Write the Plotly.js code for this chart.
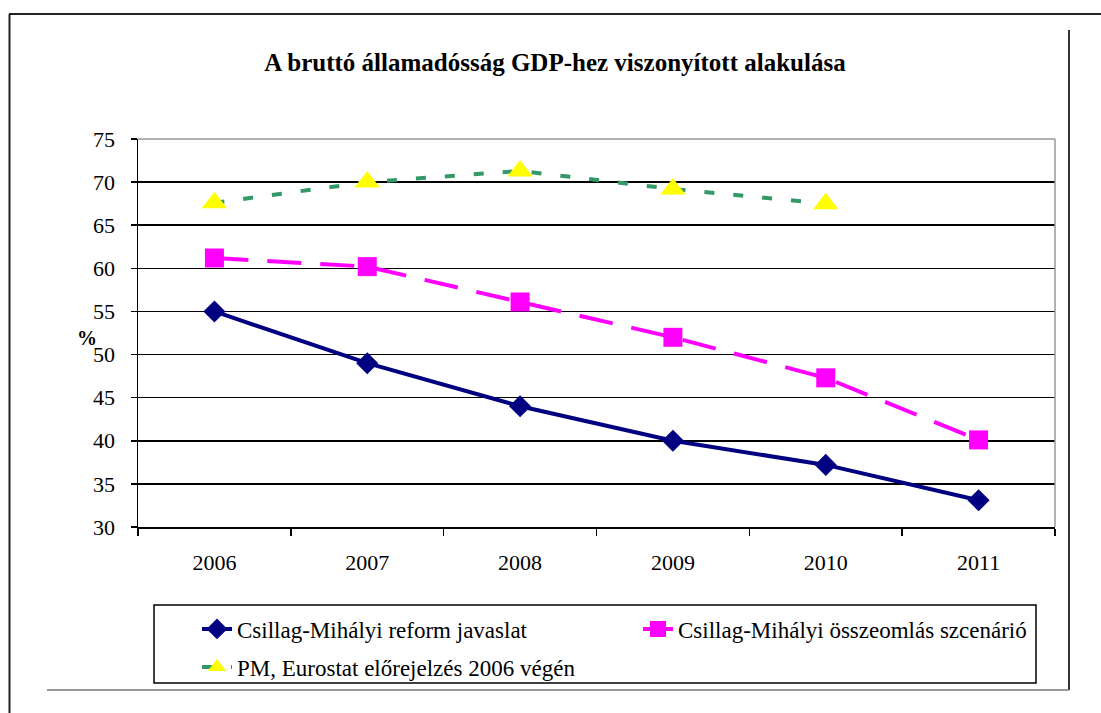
<!DOCTYPE html>
<html>
<head>
<meta charset="utf-8">
<script src="https://cdn.plot.ly/plotly-3.0.1.min.js"></script>
<style>
html,body{margin:0;padding:0;background:#fff;}
#chart{width:1101px;height:713px;}
</style>
</head>
<body>
<div id="chart"></div>
<script>
// ---- data ----
const years = ["2006", "2007", "2008", "2009", "2010", "2011"];
const reformValues = [55, 49, 44, 40, 37.2, 33.1];
const collapseValues = [61.2, 60.2, 56.1, 52, 47.3, 40.1];
const pmYears = ["2006", "2007", "2008", "2009", "2010"];
const pmValues = [67.6, 70, 71.3, 69.2, 67.5];
const seriesNames = [
  "Csillag-Mihályi reform javaslat",
  "Csillag-Mihályi összeomlás szcenárió",
  "PM, Eurostat előrejelzés 2006 végén"
];
const yTicks = [30, 35, 40, 45, 50, 55, 60, 65, 70, 75];
const chartTitle = "A bruttó államadósság GDP-hez viszonyított alakulása";
const yTitle = "%";

// ---- geometry helpers (pixel -> paper) ----
const W = 1101, H = 713;
const L = 138, R = 1055, T = 139, B = 527;
const px = v => (v - L) / (R - L);
const py = v => (B - v) / (B - T);

const serif = "'Liberation Serif', 'Times New Roman', serif";

const traces = [
  {
    x: years, y: reformValues, name: seriesNames[0], type: "scatter", mode: "lines+markers",
    line: {color: "#000080", width: 4},
    marker: {symbol: "diamond", size: 17, color: "#000080", line: {width: 0}},
    legend: "legend"
  },
  {
    x: years, y: collapseValues, name: seriesNames[1], type: "scatter", mode: "lines+markers",
    line: {color: "#FF00FF", width: 4, dash: "34px,19px"},
    marker: {symbol: "square", size: 19, color: "#FF00FF", line: {width: 0}},
    legend: "legend"
  },
  {
    x: pmYears, y: pmValues, name: seriesNames[2], type: "scatter", mode: "lines+markers",
    line: {color: "#339966", width: 4, dash: "10px,19px"},
    marker: {symbol: "triangle-up", size: 22, color: "#FFFF00", line: {width: 0}},
    legend: "legend2"
  }
];

const frameShapes = [
  // outer frame
  {type: "line", xref: "paper", yref: "paper", x0: px(9), x1: px(1101), y0: py(14), y1: py(14), line: {color: "#222", width: 2}},
  {type: "line", xref: "paper", yref: "paper", x0: px(9.5), x1: px(9.5), y0: py(14), y1: py(713), line: {color: "#222", width: 2}},
  {type: "line", xref: "paper", yref: "paper", x0: px(1069), x1: px(1069), y0: py(30), y1: py(690), line: {color: "#333", width: 2}},
  {type: "line", xref: "paper", yref: "paper", x0: px(47), x1: px(1069), y0: py(690), y1: py(690), line: {color: "#777", width: 1.5}},
  // plot top / right border gray
  {type: "line", xref: "paper", yref: "paper", x0: 0, x1: 1, y0: 1, y1: 1, line: {color: "#999", width: 1.5}, layer: "above"},
  {type: "line", xref: "paper", yref: "paper", x0: 1, x1: 1, y0: 0, y1: 1, line: {color: "#999", width: 1.5}, layer: "above"},
  // legend box
  {type: "rect", xref: "paper", yref: "paper", x0: px(154), x1: px(1036), y0: py(605), y1: py(683), line: {color: "#000", width: 1.5}, fillcolor: "rgba(0,0,0,0)"}
];

const layout = {
  width: W, height: H,
  margin: {l: L, r: W - R, t: T, b: H - B, pad: 0},
  paper_bgcolor: "#fff", plot_bgcolor: "#fff",
  font: {family: serif, color: "#000", size: 21},
  title: {
    text: "<b>" + chartTitle + "</b>",
    font: {family: serif, size: 25, color: "#000"},
    xref: "paper", x: px(555), xanchor: "center",
    yref: "container", y: 1 - 62 / H, yanchor: "middle"
  },
  xaxis: {
    type: "category", categoryarray: years, range: [-0.5, 5.5],
    showline: true, linecolor: "#000", linewidth: 1.5,
    ticks: "outside", tickson: "boundaries", ticklen: 7, tickcolor: "#000", tickwidth: 1.5,
    showgrid: false, zeroline: false,
    tickfont: {family: serif, size: 22, color: "#000"},
    ticklabelstandoff: 15
  },
  yaxis: {
    range: [30, 75], tickvals: yTicks, ticktext: yTicks.map(String),
    showline: true, linecolor: "#000", linewidth: 1.5,
    ticks: "outside", ticklen: 6, tickcolor: "#000", tickwidth: 1.5,
    showgrid: true, gridcolor: "#000", gridwidth: 1.5, zeroline: false,
    tickfont: {family: serif, size: 22, color: "#000"},
    ticklabelstandoff: 11
  },
  showlegend: true,
  legend: {
    orientation: "h", xref: "paper", yref: "paper",
    x: px(197), xanchor: "left", y: py(629), yanchor: "middle",
    entrywidth: 396, bgcolor: "rgba(0,0,0,0)", borderwidth: 0,
    font: {family: serif, size: 23, color: "#000"}
  },
  legend2: {
    orientation: "h", xref: "paper", yref: "paper",
    x: px(197), xanchor: "left", y: py(667), yanchor: "middle",
    bgcolor: "rgba(0,0,0,0)", borderwidth: 0,
    font: {family: serif, size: 23, color: "#000"}
  },
  shapes: frameShapes,
  annotations: [
    {text: "<b>" + yTitle + "</b>", xref: "paper", yref: "paper", x: px(75), y: py(338),
     showarrow: false, font: {family: serif, size: 20, color: "#000"}}
  ]
};

Plotly.newPlot("chart", traces, layout, {displayModeBar: false, staticPlot: true});
</script>
</body>
</html>
